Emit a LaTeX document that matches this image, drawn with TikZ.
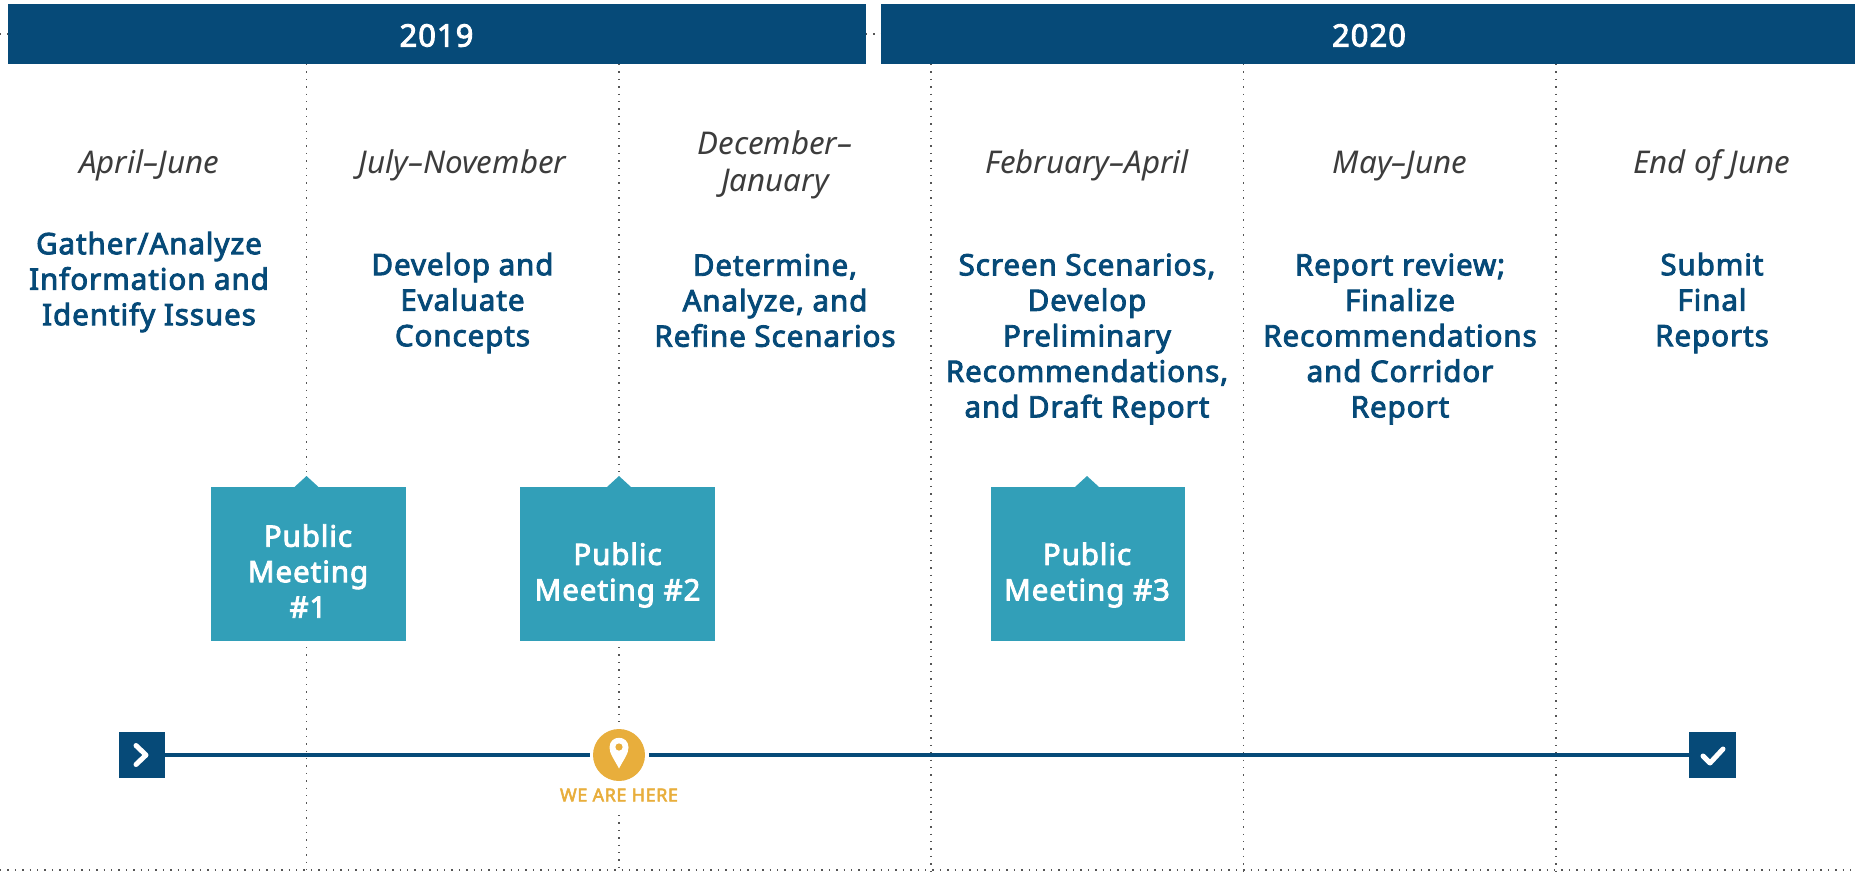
\documentclass[tikz,border=0pt]{standalone}
\usepackage{fontspec}
\setmainfont{Noto Sans}
\newfontfamily\heavyface{Noto Sans}[FakeBold=3,LetterSpace=3.2]
\definecolor{navy}{HTML}{064A78}
\definecolor{teal}{HTML}{329FB8}
\definecolor{gold}{HTML}{E8AE3C}
\definecolor{datecol}{HTML}{3C3C3C}
\definecolor{dotcol}{HTML}{555555}
\tikzset{
  yearbar/.style={fill=navy,draw=none,inner sep=0pt,minimum height=60pt},
  yeartext/.style={inner sep=0pt,text=white,font=\heavyface\fontsize{31}{34}\selectfont},
  datelabel/.style={align=center,inner sep=0pt,text=datecol,font=\fontsize{31.3}{37}\selectfont\itshape},
  tasklabel/.style={align=center,inner sep=0pt,text=navy,font=\heavyface\fontsize{29.5}{35.5}\selectfont},
  meetbox/.style={fill=teal,draw=none,inner sep=0pt,minimum width=195pt,minimum height=154pt},
  meettext/.style={align=center,inner sep=0pt,text=white,font=\heavyface\fontsize{29.5}{35.5}\selectfont},
  endbox/.style={fill=navy,draw=none,inner sep=0pt,minimum size=46pt},
  divider/.style={dotcol,line width=1.1pt,dash pattern=on 1.4pt off 6pt},
  timeline/.style={navy,line width=4pt},
  iconline/.style={white,line width=5pt,line cap=round,line join=round},
}
\begin{document}
\begin{tikzpicture}[x=1pt,y=-1pt]
\useasboundingbox (0,0) rectangle (1855,871);
% dotted frame rows
\coordinate (rowTL) at (0,34);
\coordinate (rowTR) at (1855,34);
\coordinate (rowBL) at (0,870);
\coordinate (rowBR) at (1855,870);
\draw[divider] (rowTL) -- (rowTR);
\draw[divider] (rowBL) -- (rowBR);
% year bars
\node[yearbar,minimum width=858pt,anchor=north west] (y19) at (8,4) {};
\node[yearbar,minimum width=974pt,anchor=north west] (y20) at (881,4) {};
\node[yeartext] (y19t) at (436.5,35.5) {2019};
\node[yeartext] (y20t) at (1369,35.5) {2020};
% divider end points
\coordinate (d1a) at (306.5,64); \coordinate (d1b) at (306.5,473);
\coordinate (d1c) at (306.5,647); \coordinate (d1d) at (306.5,871);
\coordinate (d2a) at (619,64); \coordinate (d2b) at (619,473);
\coordinate (d2c) at (619,647); \coordinate (d2d) at (619,722);
\coordinate (d2e) at (619,815); \coordinate (d2f) at (619,871);
\coordinate (d3a) at (931,64); \coordinate (d3b) at (931,871);
\coordinate (d4a) at (1243.5,64); \coordinate (d4b) at (1243.5,871);
\coordinate (d5a) at (1556,64); \coordinate (d5b) at (1556,871);
\draw[divider] (d1a) -- (d1b);
\draw[divider] (d1c) -- (d1d);
\draw[divider] (d2a) -- (d2b);
\draw[divider] (d2c) -- (d2d);
\draw[divider] (d2e) -- (d2f);
\draw[divider] (d3a) -- (d3b);
\draw[divider] (d4a) -- (d4b);
\draw[divider] (d5a) -- (d5b);
% dates
\node[datelabel] (date1) at (149,165) {April–June};
\node[datelabel] (date2) at (462.5,165) {July–November};
\node[datelabel] (date3) at (775,165) {December–\\January};
\node[datelabel] (date4) at (1087,165) {February–April};
\node[datelabel] (date5) at (1400,166) {May–June};
\node[datelabel] (date6) at (1712,165) {End of June};
% tasks
\node[tasklabel] (task1) at (149,282) {Gather/Analyze\\Information and\\Identify Issues};
\node[tasklabel] (task2) at (462.5,303) {Develop and\\Evaluate\\Concepts};
\node[tasklabel] (task3) at (775,300.5) {Determine,\\Analyze, and\\Refine Scenarios};
\node[tasklabel] (task4) at (1087,339) {Screen Scenarios,\\Develop\\Preliminary\\Recommendations,\\and Draft Report};
\node[tasklabel] (task5) at (1400,339) {Report review;\\Finalize\\Recommendations\\and Corridor\\Report};
\node[tasklabel] (task6) at (1712,303) {Submit\\Final\\Reports};
% meeting boxes
\node[meetbox] (m1) at (308.5,564) {};
\node[meetbox] (m2) at (617.5,564) {};
\node[meetbox,minimum width=194pt] (m3) at (1087.5,564) {};
\fill[teal] (294.5,487) -- (306.5,476) -- (318.5,487) -- cycle;
\fill[teal] (607,487) -- (619,476) -- (631,487) -- cycle;
\fill[teal] (1075,487) -- (1087,476) -- (1099,487) -- cycle;
\node[meettext] (m1t) at (308,571) {Public\\Meeting\\\#1};
\node[meettext] (m2t) at (617.5,575) {Public\\Meeting \#2};
\node[meettext] (m3t) at (1087,575) {Public\\Meeting \#3};
% timeline
\node[endbox] (start) at (142,755) {};
\node[endbox,minimum width=47pt] (finish) at (1712.5,755) {};
\node[circle,fill=gold,draw=none,minimum size=52pt,inner sep=0pt] (here) at (619,755) {};
\coordinate (gapL) at (590,755);
\coordinate (gapR) at (649,755);
\draw[timeline] (start.east) -- (gapL);
\draw[timeline] (gapR) -- (finish.west);
% icons
\draw[iconline] (136,745.5) -- (146,755) -- (136,764.5);
\draw[iconline] (1703,756) -- (1710,763) -- (1723,749);
\fill[white] (619,768.5) .. controls (614,759) and (609.5,753.5) .. (609.5,747.5)
  .. controls (609.5,734.5) and (628.5,734.5) .. (628.5,747.5)
  .. controls (628.5,753.5) and (624,759) .. (619,768.5) -- cycle;
\fill[gold] (619,747) circle (3.6pt);
\node[inner sep=0pt,text=gold,font=\heavyface\fontsize{18}{20}\selectfont] (hereT) at (619,795) {WE ARE HERE};
\end{tikzpicture}
\end{document}
